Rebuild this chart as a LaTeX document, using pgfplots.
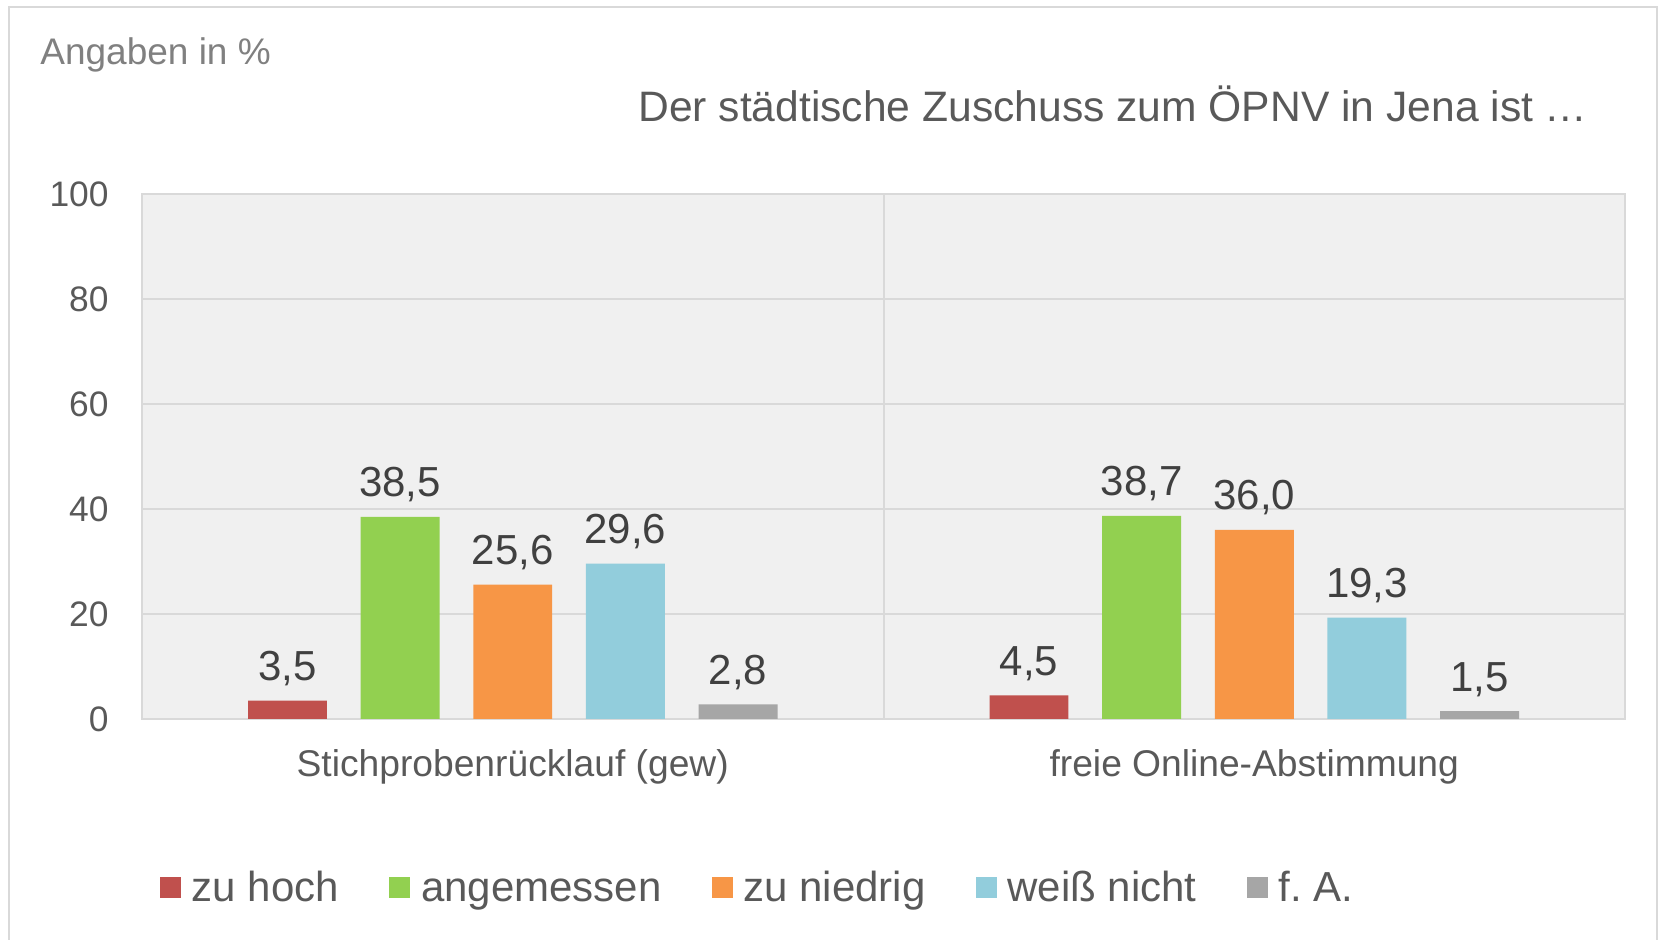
\documentclass[border=0pt]{standalone}
\usepackage{fontspec}
\setmainfont{Liberation Sans}
\usepackage{pgfplots}
\pgfplotsset{compat=1.18}

\definecolor{cRed}{HTML}{C0504D}
\definecolor{cGreen}{HTML}{92D050}
\definecolor{cOrange}{HTML}{F79646}
\definecolor{cBlue}{HTML}{92CDDC}
\definecolor{cGray}{HTML}{A6A6A6}
\definecolor{bggray}{HTML}{F0F0F0}
\definecolor{gridgray}{HTML}{D9D9D9}
\definecolor{txtdark}{HTML}{404040}
\definecolor{txtmid}{HTML}{595959}
\definecolor{txtlight}{HTML}{808080}

\begin{document}
\begin{tikzpicture}
\path[use as bounding box] (0,0) rectangle (831.5pt,470pt);
\draw[gridgray, line width=1pt] (4.5pt,-2pt) -- (4.5pt,466.5pt) -- (828.5pt,466.5pt) -- (828.5pt,-2pt);
\node[anchor=base west, inner sep=0pt, text=txtlight, font=\fontsize{18.5}{22}\selectfont]
  at (20pt,437.5pt) {Angaben in \%};
\node[anchor=base, inner sep=0pt, text=txtmid, font=\fontsize{21.3}{25}\selectfont]
  at (556.5pt,409pt) {Der städtische Zuschuss zum ÖPNV in Jena ist …};

\begin{axis}[
  at={(71pt,110.5pt)}, anchor=south west,
  scale only axis, width=741.5pt, height=262.5pt,
  ybar, bar width=0.1065,
  xmin=-0.5, xmax=1.5, ymin=0, ymax=100,
  xtick={0,1},
  xticklabels={Stichprobenrücklauf (gew), freie Online-Abstimmung},
  minor xtick={0.5}, xminorgrids=true,
  ytick={0,20,...,100}, ymajorgrids=true,
  major tick length=0pt, minor tick length=0pt,
  axis line style={gridgray, line width=1pt},
  grid style={gridgray, line width=1pt},
  minor grid style={gridgray, line width=1pt},
  axis background/.style={fill=bggray},
  /pgf/number format/assume math mode=true,
  yticklabel style={anchor=east, inner sep=0pt, xshift=-16.5pt, text=txtmid,
    font=\fontsize{17.7}{21}\selectfont},
  xticklabel style={anchor=base, inner sep=0pt, yshift=-29pt, text=txtmid,
    font=\fontsize{18.6}{22}\selectfont},
  nodes near coords={\pgfmathprintnumber[fixed,zerofill,precision=1,use comma,assume math mode=true]{\pgfplotspointmeta}},
  every node near coord/.append style={anchor=base, inner sep=0pt, yshift=10pt,
    text=txtdark, font=\fontsize{21}{25}\selectfont},
  legend columns=5,
  legend style={draw=none, fill=none, inner sep=0pt, outer sep=0pt,
    at={(0.0121,-0.322)}, anchor=west, text=txtmid,
    font=\fontsize{21}{25}\selectfont, nodes={inner sep=0pt, anchor=base},
    /tikz/every odd column/.append style={column sep=5.5pt},
    /tikz/every even column/.append style={column sep=25pt}},
  legend image code/.code={\fill[#1] (0pt,2pt) rectangle (10.5pt,12.5pt);},
]
\addplot[fill=cRed, draw=none, bar shift=-0.3038] coordinates {(0,3.5) (1,4.5)};
\addplot[fill=cGreen, draw=none, bar shift=-0.1519] coordinates {(0,38.5) (1,38.7)};
\addplot[fill=cOrange, draw=none, bar shift=0] coordinates {(0,25.6) (1,36.0)};
\addplot[fill=cBlue, draw=none, bar shift=0.1519] coordinates {(0,29.6) (1,19.3)};
\addplot[fill=cGray, draw=none, bar shift=0.3038] coordinates {(0,2.8) (1,1.5)};
\legend{zu hoch, angemessen, zu niedrig, weiß nicht, f.\ A.}
\end{axis}
\end{tikzpicture}
\end{document}
